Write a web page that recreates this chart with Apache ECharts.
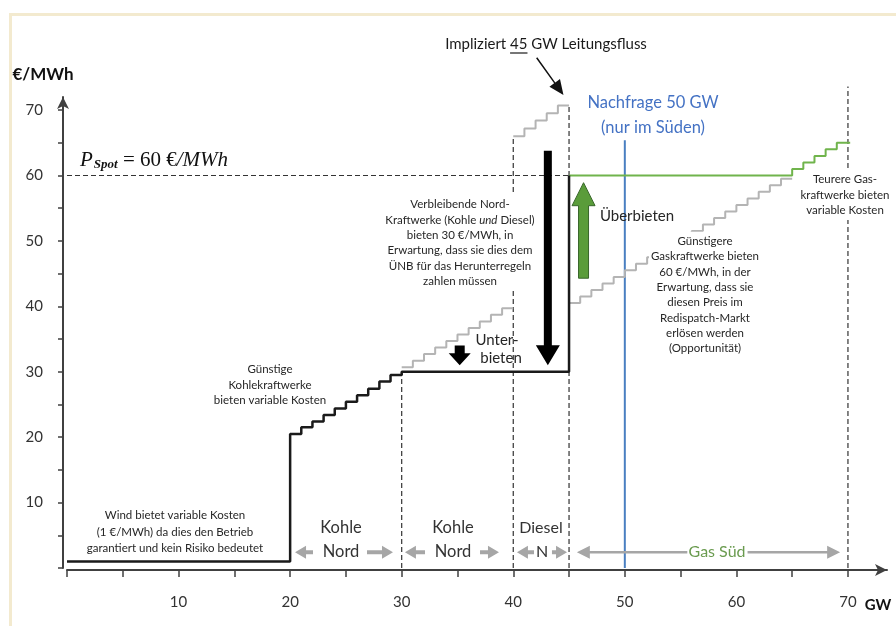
<!DOCTYPE html>
<html>
<head>
<meta charset="utf-8">
<script src="https://cdn.jsdelivr.net/npm/echarts@6/dist/echarts.min.js"></script>
<style>
  html, body { margin: 0; padding: 0; background: #fff; }
  #chart { width: 896px; height: 626px; }
</style>
</head>
<body>
<div id="chart"></div>
<script>
// Achsen
var xTicks = [0, 5, 10, 15, 20, 25, 30, 35, 40, 45, 50, 55, 60, 65, 70];
var xLabels = [10, 20, 30, 40, 50, 60, 70];
var yTicks = [0, 5, 10, 15, 20, 25, 30, 35, 40, 45, 50, 55, 60, 65, 70];
var yLabels = [10, 20, 30, 40, 50, 60, 70];

// Gebotskurve nach Redispatch (schwarz): Wind, Kohle Nord, dann 30 €/MWh, Sprung bei 45 GW
var gebotX = [0, 20, 21, 22, 23, 24, 25, 26, 27, 28, 29, 30, 45, 45];
var gebotY = [1, 20.5, 21.5, 22.4, 23.4, 24.4, 25.4, 26.4, 27.4, 28.5, 29.5, 30, 30, 60];

// ursprüngliche Gebote (grau)
var kohleNord2X = [30, 31, 32, 33, 34, 35, 36, 37, 38, 39, 40];
var kohleNord2Y = [30.7, 31.7, 32.7, 33.7, 34.7, 35.7, 36.7, 37.7, 38.7, 39.7, 39.7];
var dieselX = [40, 41, 42, 43, 44, 45];
var dieselY = [66, 67.2, 68.4, 69.5, 70.7, 70.7];
var gasSuedX = [45, 46, 47, 48, 49, 50, 51, 52, 53, 54, 55, 56, 57, 58, 59, 60, 61, 62, 63, 64, 65];
var gasSuedY = [40.5, 41.5, 42.5, 43.5, 44.5, 45.5, 46.5, 47.5, 48.5, 49.5, 50.5, 51.5, 52.5, 53.5, 54.5, 55.5, 56.5, 57.5, 58.5, 59.5, 59.5];

// Gebote Gas Süd im Redispatch (grün)
var gasGruenX = [45, 65, 66, 67, 68, 69, 70.2];
var gasGruenY = [60, 61, 62, 63, 64, 65, 65];

// Hilfslinien
var grenzX = [30, 40, 45, 70];
var grenzTop = [30, 66, 70.7, 73.6];
var spotPreis = 60;
var spotEnde = 45;
var nachfrageGW = 50;
var nachfrageTop = 65.4;

// Pfeile [x1, y1, x2, y2]
var pfeilGross = [[43.1, 63.8, 43.1, 31.0]];
var pfeilKlein = [[35.2, 34.0, 35.2, 31.0]];
var pfeilGruen = [[46.3, 44.3, 46.3, 58.9]];
var pfeilFluss = [[42.1, 78.0, 44.5, 72.3]];
var pfeileUnten = [
  [22.05, 2.4, 20.44, 2.4], [26.89, 2.4, 29.22, 2.4],
  [32.09, 2.4, 30.29, 2.4], [37.02, 2.4, 38.72, 2.4],
  [41.86, 2.4, 40.33, 2.4], [43.47, 2.4, 44.82, 2.4]
];
var pfeileGas = [[55.6, 2.4, 45.7, 2.4], [61.0, 2.4, 69.3, 2.4]];

var chart = echarts.init(document.getElementById('chart'));

function zip(xs, ys) {
  return xs.map(function (x, i) { return [x, ys[i]]; });
}

function stufen(name, xs, ys, color, width, z) {
  return {
    name: name, type: 'line', step: 'end', data: zip(xs, ys),
    symbol: 'none', silent: true, clip: false, z: z,
    lineStyle: { color: color, width: width }
  };
}

function linie(name, data, color, width, type, z) {
  return {
    name: name, type: 'line', data: data, symbol: 'none', silent: true, clip: false, z: z,
    lineStyle: { color: color, width: width, type: type }
  };
}

function pfeil(name, data, o) {
  return {
    name: name, type: 'custom', data: data, clip: false, silent: true, z: o.z || 6,
    renderItem: function (params, api) {
      var p1 = api.coord([api.value(0), api.value(1)]);
      var p2 = api.coord([api.value(2), api.value(3)]);
      var dx = p2[0] - p1[0], dy = p2[1] - p1[1];
      var len = Math.sqrt(dx * dx + dy * dy);
      var ux = dx / len, uy = dy / len, nx = -uy, ny = ux;
      var hw = o.headW / 2, sw = o.shaftW / 2;
      var bx = p2[0] - ux * o.headLen, by = p2[1] - uy * o.headLen;
      var pts = [
        [p1[0] + nx * sw, p1[1] + ny * sw],
        [bx + nx * sw, by + ny * sw],
        [bx + nx * hw, by + ny * hw],
        [p2[0], p2[1]],
        [bx - nx * hw, by - ny * hw],
        [bx - nx * sw, by - ny * sw],
        [p1[0] - nx * sw, p1[1] - ny * sw]
      ];
      return {
        type: 'polygon', shape: { points: pts },
        style: { fill: o.color, stroke: o.stroke || null, lineWidth: o.strokeW || 0 }
      };
    }
  };
}

var series = [];
grenzX.forEach(function (x, i) {
  series.push(linie('grenze' + x, [[x, 0], [x, grenzTop[i]]], '#333', 1.2, [5, 3], 1));
});
series.push(linie('spot', [[0, spotPreis], [spotEnde, spotPreis]], '#333', 1.2, [5, 3], 1));
series.push(linie('nachfrage', [[nachfrageGW, 0], [nachfrageGW, nachfrageTop]], '#4a7fc1', 2, 'solid', 2));
series.push(stufen('kohleNord2', kohleNord2X, kohleNord2Y, '#b4b4b4', 2, 3));
series.push(stufen('diesel', dieselX, dieselY, '#b4b4b4', 2, 3));
series.push(stufen('gasSued', gasSuedX, gasSuedY, '#b4b4b4', 2, 3));
series.push(stufen('gasGruen', gasGruenX, gasGruenY, '#70b44c', 2, 4));
series.push(stufen('gebot', gebotX, gebotY, '#1a1a1a', 2.5, 5));
series.push(pfeil('gross', pfeilGross, { color: '#000', shaftW: 8, headW: 24, headLen: 20 }));
series.push(pfeil('klein', pfeilKlein, { color: '#000', shaftW: 10, headW: 22, headLen: 12 }));
series.push(pfeil('gruen', pfeilGruen, { color: '#5a9c3a', stroke: '#38662a', strokeW: 1, shaftW: 10, headW: 23, headLen: 23 }));
series.push(pfeil('fluss', pfeilFluss, { color: '#111', shaftW: 1.5, headW: 13, headLen: 15 }));
series.push(pfeil('unten', pfeileUnten, { color: '#a6a6a6', shaftW: 4, headW: 13, headLen: 11 }));
series.push(pfeil('gas', pfeileGas, { color: '#a6a6a6', shaftW: 2.5, headW: 13, headLen: 13 }));

var axisColor = '#404040';
var font = 'Lato, "Noto Sans", sans-serif';

// Unterstreichung "45"
var ctx = document.createElement('canvas').getContext('2d');
ctx.font = '15px Lato';
var w1 = ctx.measureText('Impliziert ').width;
var w2 = ctx.measureText('45').width;
var wAll = ctx.measureText('Impliziert 45 GW Leitungsfluss').width;
var uStart = 546 - wAll / 2 + w1;

function txt(x, y, text, size, extra) {
  var style = {
    text: text, fontFamily: font, fontSize: size, fill: '#262626',
    align: 'center', verticalAlign: 'middle'
  };
  for (var k in extra || {}) style[k] = extra[k];
  return { type: 'text', x: x, y: y, z: 100, silent: true, style: style };
}

var absatz = { lineHeight: 15.3, backgroundColor: '#fff', padding: [2, 2] };

var option = {
  animation: false,
  grid: { left: 67, right: 9, top: 97, bottom: 58 },
  xAxis: {
    type: 'value', min: 0, max: 73.5,
    axisLine: { onZero: false, symbol: ['none', 'arrow'], symbolSize: [9, 12], lineStyle: { color: axisColor, width: 2 } },
    axisTick: { show: true, customValues: xTicks, length: 7, lineStyle: { color: axisColor, width: 1.5 } },
    axisLabel: { customValues: xLabels, margin: 25, fontSize: 15, color: '#333', fontFamily: font },
    splitLine: { show: false },
    offset: 2
  },
  yAxis: {
    type: 'value', min: 0, max: 72,
    axisLine: { onZero: false, symbol: ['none', 'arrow'], symbolSize: [9, 12], lineStyle: { color: axisColor, width: 2 } },
    axisTick: { show: true, customValues: yTicks, length: 5, lineStyle: { color: axisColor, width: 1.5 } },
    axisLabel: { customValues: yLabels, margin: 20, fontSize: 15, color: '#333', fontFamily: font },
    splitLine: { show: false },
    offset: 4
  },
  series: series,
  graphic: [
    // Rahmen
    { type: 'rect', z: 0, silent: true, shape: { x: 9, y: 13, width: 900, height: 3 }, style: { fill: '#f3eacf' } },
    { type: 'rect', z: 0, silent: true, shape: { x: 9, y: 13, width: 3, height: 620 }, style: { fill: '#f3eacf' } },
    txt(43, 75, '€/MWh', 17, { fontWeight: 'bold', fill: '#111' }),
    txt(878, 605, 'GW', 15, { fontWeight: 'bold', fill: '#111' }),
    {
      type: 'text', x: 80, y: 160, z: 100, silent: true,
      style: {
        text: '{p|P}{s|Spot}{n| = 60 €}{i|/MWh}', verticalAlign: 'middle', align: 'left',
        rich: {
          p: { fontFamily: 'Liberation Serif', fontStyle: 'italic', fontSize: 21, fill: '#111' },
          s: { fontFamily: 'Liberation Serif', fontStyle: 'italic', fontWeight: 'bold', fontSize: 13, fill: '#111', padding: [10, 0, 0, 1] },
          n: { fontFamily: 'Liberation Serif', fontSize: 21, fill: '#111' },
          i: { fontFamily: 'Liberation Serif', fontStyle: 'italic', fontSize: 21, fill: '#111' }
        }
      }
    },
    txt(546, 44, 'Impliziert 45 GW Leitungsfluss', 15, { fill: '#1a1a1a' }),
    { type: 'line', z: 100, silent: true, shape: { x1: uStart, y1: 53, x2: uStart + w2, y2: 53 }, style: { stroke: '#1a1a1a', lineWidth: 1.2 } },
    txt(653, 103, 'Nachfrage 50 GW', 16.5, { fill: '#4472c4' }),
    txt(653, 128, '(nur im Süden)', 16.5, { fill: '#4472c4' }),
    txt(460, 243, 'Verbleibende Nord-\nKraftwerke (Kohle {i|und} Diesel)\nbieten 30 €/MWh, in\nErwartung, dass sie dies dem\nÜNB für das Herunterregeln\nzahlen müssen', 11.5,
      Object.assign({ rich: { i: { fontStyle: 'italic', fontFamily: font, fontSize: 11.5, fill: '#262626' } } }, absatz)),
    txt(497, 340, 'Unter-', 15),
    txt(501, 358, 'bieten', 15),
    txt(637, 216, 'Überbieten', 15),
    txt(705, 295, 'Günstigere\nGaskraftwerke bieten\n60 €/MWh, in der\nErwartung, dass sie\ndiesen Preis im\nRedispatch-Markt\nerlösen werden\n(Opportunität)', 11.5, absatz),
    txt(845, 195, 'Teurere Gas-\nkraftwerke bieten\nvariable Kosten', 11.5, absatz),
    txt(270, 385, 'Günstige\nKohlekraftwerke\nbieten variable Kosten', 11.5, { lineHeight: 15.5 }),
    txt(175, 532, 'Wind bietet variable Kosten\n(1 €/MWh) da dies den Betrieb\ngarantiert und kein Risiko bedeutet', 11.5, { lineHeight: 16.5 }),
    txt(341, 528, 'Kohle', 16.5, { fill: '#333' }),
    txt(341, 552, 'Nord', 16.5, { fill: '#333' }),
    txt(453, 528, 'Kohle', 16.5, { fill: '#333' }),
    txt(453, 552, 'Nord', 16.5, { fill: '#333' }),
    txt(541, 528, 'Diesel', 16, { fill: '#333' }),
    txt(542, 552, 'N', 16, { fill: '#333' }),
    txt(717, 552, 'Gas Süd', 16, { fill: '#6a9b4f' })
  ]
};

chart.setOption(option);
</script>
</body>
</html>
